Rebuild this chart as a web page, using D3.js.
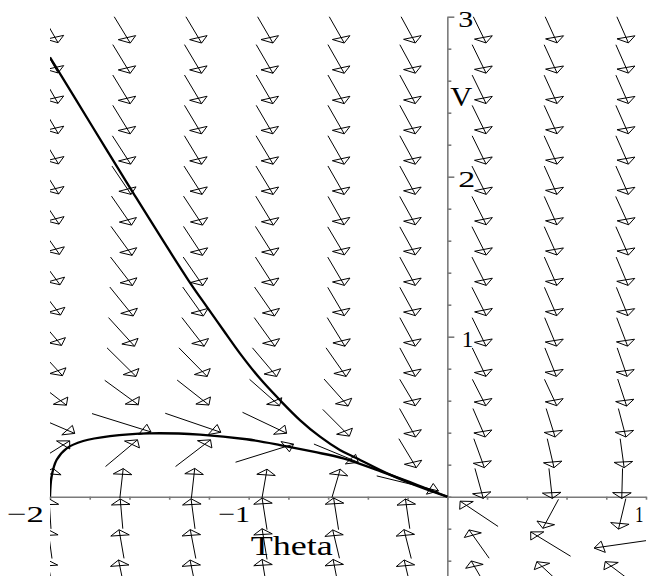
<!DOCTYPE html>
<html><head><meta charset="utf-8">
<script src="https://cdn.jsdelivr.net/npm/d3@7"></script>
<style>html,body{margin:0;padding:0;background:#fff}svg{display:block}</style>
</head><body>
<svg id="chart" width="649" height="576"></svg>
<script>
// ---- data ----
const thetaGrid = [-2, -1.64, -1.28, -0.92, -0.56, -0.2, 0.16, 0.52, 0.88];
const vGrid = [2.925, 2.736, 2.546, 2.357, 2.167, 1.978, 1.788, 1.599, 1.409, 1.220,
               1.030, 0.841, 0.651, 0.462, 0.272, 0.083, -0.107, -0.296, -0.486];
// arrow components (data units) per row of vGrid, per column of thetaGrid
const arrowDTheta = [
  [0.081,0.088,0.086,0.084,0.082,0.078,0.070,0.065,0.063],
  [0.081,0.088,0.086,0.084,0.082,0.078,0.070,0.065,0.063],
  [0.081,0.088,0.086,0.084,0.082,0.078,0.070,0.065,0.063],
  [0.083,0.088,0.086,0.084,0.082,0.078,0.070,0.065,0.063],
  [0.086,0.092,0.087,0.086,0.082,0.078,0.070,0.065,0.063],
  [0.088,0.096,0.091,0.087,0.082,0.078,0.072,0.064,0.063],
  [0.091,0.101,0.096,0.089,0.081,0.079,0.072,0.064,0.065],
  [0.096,0.106,0.096,0.092,0.084,0.078,0.072,0.064,0.063],
  [0.101,0.111,0.099,0.092,0.084,0.078,0.072,0.063,0.060],
  [0.106,0.118,0.104,0.101,0.084,0.078,0.072,0.062,0.058],
  [0.116,0.131,0.112,0.104,0.089,0.078,0.070,0.060,0.055],
  [0.126,0.146,0.142,0.122,0.101,0.078,0.069,0.058,0.050],
  [0.165,0.169,0.160,0.151,0.121,0.079,0.068,0.062,0.045],
  [0.249,0.297,0.280,0.222,0.134,0.081,0.062,0.045,0.038],
  [0.198,0.161,0.176,0.292,0.223,0.088,0.053,0.034,0.020],
  [0.030,0.017,0.017,0.025,0.042,0.311,0.042,0.017,-0.004],
  [-0.010,-0.013,-0.020,-0.025,-0.025,-0.022,-0.191,-0.079,-0.037],
  [-0.020,-0.025,-0.028,-0.025,-0.034,-0.037,-0.101,-0.201,-0.282],
  [-0.025,-0.030,-0.030,-0.025,-0.030,-0.035,-0.079,-0.139,-0.171]
];
const arrowDV = [
  [-0.175,-0.179,-0.179,-0.179,-0.179,-0.178,-0.178,-0.177,-0.177],
  [-0.175,-0.179,-0.179,-0.179,-0.179,-0.178,-0.178,-0.177,-0.177],
  [-0.175,-0.179,-0.179,-0.179,-0.179,-0.178,-0.178,-0.177,-0.177],
  [-0.175,-0.178,-0.178,-0.178,-0.178,-0.178,-0.177,-0.177,-0.177],
  [-0.175,-0.177,-0.178,-0.178,-0.178,-0.178,-0.177,-0.177,-0.177],
  [-0.172,-0.177,-0.177,-0.178,-0.178,-0.177,-0.177,-0.177,-0.177],
  [-0.169,-0.181,-0.181,-0.181,-0.177,-0.177,-0.177,-0.177,-0.177],
  [-0.169,-0.181,-0.181,-0.181,-0.175,-0.175,-0.177,-0.177,-0.177],
  [-0.169,-0.178,-0.178,-0.178,-0.177,-0.177,-0.177,-0.177,-0.177],
  [-0.169,-0.181,-0.181,-0.181,-0.177,-0.177,-0.177,-0.177,-0.177],
  [-0.169,-0.179,-0.179,-0.179,-0.179,-0.178,-0.178,-0.178,-0.178],
  [-0.169,-0.179,-0.179,-0.179,-0.179,-0.178,-0.178,-0.178,-0.178],
  [-0.158,-0.153,-0.156,-0.165,-0.169,-0.165,-0.165,-0.165,-0.169],
  [-0.133,-0.115,-0.119,-0.131,-0.167,-0.178,-0.178,-0.178,-0.178],
  [0.154,0.167,0.167,0.113,-0.114,-0.181,-0.181,-0.181,-0.181],
  [0.188,0.186,0.188,0.178,0.178,-0.094,-0.188,-0.188,-0.188],
  [0.188,0.186,0.188,0.198,0.198,0.186,0.158,-0.181,-0.191],
  [0.181,0.179,0.181,0.192,0.177,0.181,0.177,0.152,-0.050],
  [0.181,0.181,0.181,0.188,0.188,0.181,0.169,0.160,0.160]
];
// solution curves
const curve1Theta = [-2.0, -1.79, -1.58, -1.304, -1.211, -1.128, -1.044, -0.943, -0.843, -0.742, -0.641, -0.541, -0.456, -0.289, -0.121, 0];
const curve1V     = [2.746, 2.32, 1.896, 1.354, 1.1875, 1.042, 0.896, 0.738, 0.604, 0.479, 0.375, 0.292, 0.24, 0.138, 0.053, 0];
const curve2Theta = [-2.0, -1.992, -1.967, -1.916, -1.833, -1.698, -1.497, -1.245, -1.01, -0.842, -0.675, -0.524, -0.322, -0.154, 0];
const curve2V     = [0, 0.125, 0.229, 0.3025, 0.348, 0.379, 0.396, 0.388, 0.359, 0.323, 0.281, 0.24, 0.152, 0.075, 0];
// tick labels
const xTickLabels = [{v:-2, t:"\u22122"}, {v:-1, t:"\u22121"}, {v:1, t:"1"}];
const yTickLabels = [{v:1, t:"1"}, {v:2, t:"2"}, {v:3, t:"3"}];
const xLabel = "Theta", yLabel = "V";

// ---- drawing ----
const svg = d3.select("#chart");
const x = d3.scaleLinear().domain([-2, 1]).range([50, 646]);
const y = d3.scaleLinear().domain([-0.5, 3]).range([576.7, 16.7]);
const AX = "#7a7a7a";
const FONT = "'Liberation Serif','Times New Roman',serif";

svg.append("defs").append("clipPath").attr("id","clip")
  .append("rect").attr("x", x(-2)).attr("y", y(3))
  .attr("width", x(1) - x(-2)).attr("height", y(-0.5) - y(3));

// axes
const minorX = d3.range(-2, 1.001, 0.2);
const minorY = d3.range(-0.4, 3.001, 0.2);
const gx = svg.append("g").attr("transform", `translate(0,${y(0)})`)
  .call(d3.axisBottom(x).tickValues(minorX).tickSize(3).tickSizeOuter(0).tickFormat(""));
gx.selectAll("path,line").attr("stroke", AX).attr("stroke-width", 1.6);
const gy = svg.append("g").attr("transform", `translate(${x(0)},0)`)
  .call(d3.axisRight(y).tickValues(minorY).tickSize(4).tickSizeOuter(0).tickFormat(""));
gy.selectAll("path,line").attr("stroke", AX).attr("stroke-width", 1.6);
gy.selectAll(".tick").filter(d => Math.abs(d - Math.round(d)) < 1e-6 && Math.round(d) !== 0)
  .select("line").attr("x2", 7);

// arrows
const K = 1.615, HB = 9.3, HW = 9.3;
const arrows = [];
vGrid.forEach((vc, j) => thetaGrid.forEach((tc, k) => {
  arrows.push({tc, vc, dt: arrowDTheta[j][k], dv: arrowDV[j][k]});
}));
const ga = svg.append("g").attr("clip-path", "url(#clip)");
arrows.forEach(a => {
  const x0 = x(a.tc - a.dt/2), y0 = y(a.vc - a.dv/2);
  const x1 = x(a.tc + a.dt/2), y1 = y(a.vc + a.dv/2);
  const nx = x1 - x0, ny = (y1 - y0) * K;
  const L = Math.hypot(nx, ny) || 1;
  const ux = nx / L, uy = ny / L;
  const mx = x1 - HB*ux, my = y1 - HB*uy/K;
  const px = -uy, py = ux;
  const c1 = [mx + HW*px, my + HW*py/K], c2 = [mx - HW*px, my - HW*py/K];
  ga.append("line").attr("x1", x0).attr("y1", y0).attr("x2", x1).attr("y2", y1)
    .attr("stroke", "#000").attr("stroke-width", 1);
  ga.append("path").attr("d", `M${x1},${y1}L${c1[0]},${c1[1]}L${c2[0]},${c2[1]}Z`)
    .attr("fill", "none").attr("stroke", "#000").attr("stroke-width", 1);
});

// curves
const line = d3.line().x(d => x(d[0])).y(d => y(d[1])).curve(d3.curveCatmullRom.alpha(0.5));
const gc = svg.append("g").attr("clip-path", "url(#clip)");
[[curve1Theta, curve1V], [curve2Theta, curve2V]].forEach(([ts, vs]) => {
  gc.append("path").attr("d", line(ts.map((t, i) => [t, vs[i]])))
    .attr("fill", "none").attr("stroke", "#000").attr("stroke-width", 2.3);
});

// tick labels
const xl = svg.append("g").attr("font-family", FONT).attr("font-size", 24).attr("fill", "#000");
const xLayout = {"-2": {anchor: "end", dx: -6, w: 37}, "-1": {anchor: "end", dx: 1.5, w: 32}, "1": {anchor: "start", dx: -11, w: 8.5}};
xTickLabels.forEach(d => {
  const L = xLayout[String(d.v)];
  xl.append("text").attr("x", x(d.v) + L.dx).attr("y", y(0) + 25)
    .attr("text-anchor", L.anchor).attr("textLength", L.w).attr("lengthAdjust", "spacingAndGlyphs")
    .text(d.t);
});
const yW = {1: 11.6, 2: 17, 3: 15};
yTickLabels.forEach(d => {
  xl.append("text").attr("x", x(0) + (d.v === 1 ? 14.4 : 11)).attr("y", y(d.v) + 10)
    .attr("textLength", yW[d.v]).attr("lengthAdjust", "spacingAndGlyphs").text(d.t);
});
// axis titles
svg.append("text").attr("x", x(0) + 3).attr("y", y(2.44))
  .attr("font-family", FONT).attr("font-size", 27)
  .attr("textLength", 22).attr("lengthAdjust", "spacingAndGlyphs").text(yLabel);
svg.append("text").attr("x", x(-1) + 2).attr("y", y(0) + 58.3)
  .attr("font-family", FONT).attr("font-size", 27)
  .attr("textLength", 82).attr("lengthAdjust", "spacingAndGlyphs").text(xLabel);
</script>
</body></html>
